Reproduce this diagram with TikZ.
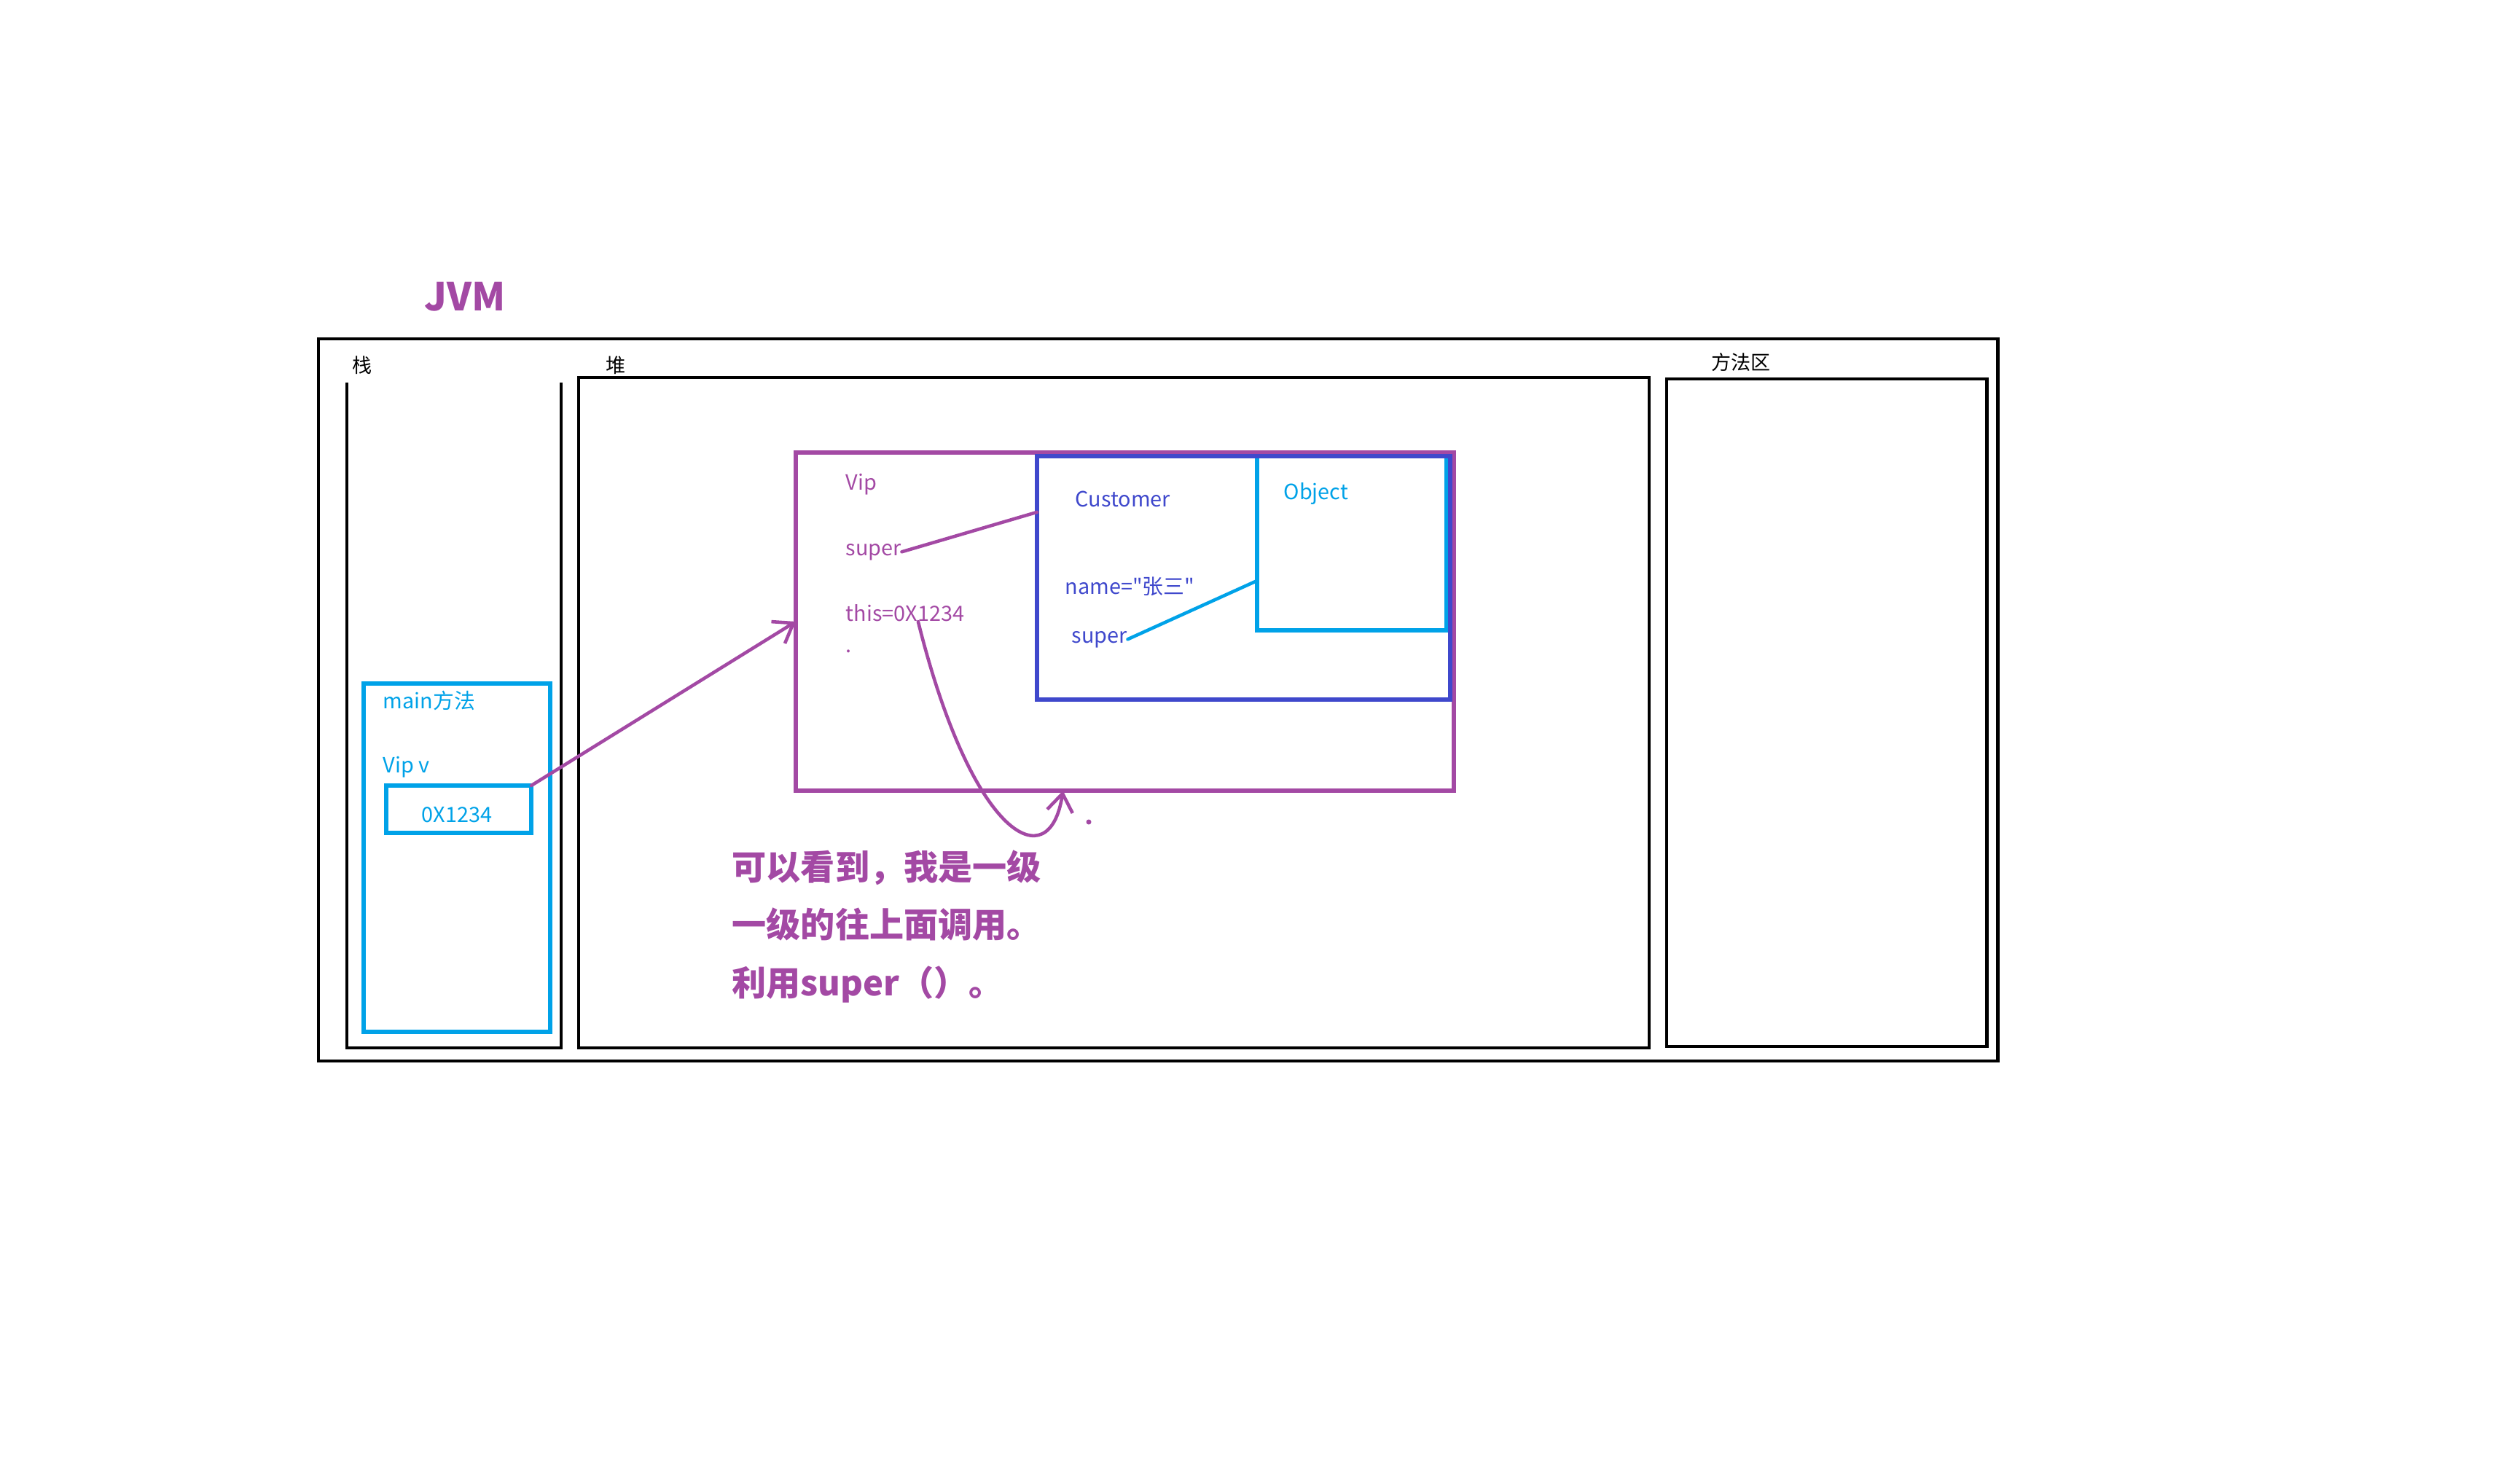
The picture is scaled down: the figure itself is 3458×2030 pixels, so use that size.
\documentclass[tikz,border=0pt]{standalone}
\usepackage{fontspec}
\setmainfont{Noto Sans CJK SC}
\newfontfamily\rawfont{Noto Sans CJK SC}
\usetikzlibrary{arrows.meta, calc, fit}
\definecolor{vpurple}{HTML}{A349A4}
\definecolor{vcyan}{HTML}{00A2E8}
\definecolor{vindigo}{HTML}{3F48CC}

\begin{document}
\begin{tikzpicture}[x=0.01cm, y=-0.01cm,
    area/.style={draw=black, line width=1.4pt, inner sep=0pt, outer sep=0pt},
    membox/.style={draw=#1, line width=1.5pt, inner sep=0pt, outer sep=0pt},
    arealbl/.style={anchor=base west, inner sep=0pt, font=\fontsize{7.7}{9}\selectfont},
    lbl/.style={anchor=base west, inner sep=0pt, text=#1, font=\fontsize{8.2}{10}\selectfont},
    note/.style={anchor=base west, inner sep=0pt, text=vpurple, font=\fontsize{13.4}{16}\selectfont\bfseries},
    link/.style={draw=#1, line width=1.3pt, line cap=round},
    >={Straight Barb[length=7pt, width=10pt]}]
    \useasboundingbox (0,0) rectangle (3458,2030);

    % JVM frame
    \node[anchor=base west, inner sep=0pt, text=vpurple, font=\fontsize{15}{18}\selectfont\bfseries] (jvm) at (582,426) {JVM};
    \node[area, fit={(437,465) (2741,1456)}] (jvmbox) {};

    % Stack
    \draw[line width=1.4pt] (476,525) |- (770,1438) -- (770,525);
    \node[arealbl] (stacklbl) at (483,511) {栈};
    \node[membox=vcyan, fit={(499,938) (755,1416)}] (mainframe) {};
    \node[lbl=vcyan] (mainlbl) at (525,972) {main方法};
    \node[lbl=vcyan] (vipvar) at (525,1060) {Vip v};
    \node[membox=vcyan, fit={(530,1078) (729,1143)}] (addr) {};
    \node[lbl=vcyan, anchor=base] (addrtxt) at (627,1128) {0X1234};

    % Heap
    \node[area, fit={(794,518) (2263,1438)}] (heap) {};
    \node[arealbl] (heaplbl) at (831,511) {堆};
    \node[membox=vpurple, fit={(1092,621) (1995,1085)}] (vip) {};
    \node[membox=vcyan, fit={(1725,626) (1985,865)}] (obj) {};
    \node[membox=vindigo, fit={(1423,626) (1990,960)}] (cust) {};

    \node[lbl=vpurple] (viplbl) at (1160,672) {Vip};
    \node[lbl=vpurple] (vsuper) at (1160,762) {super};
    \node[lbl=vpurple] (vthis) at (1160,852) {this=0X1234};
    \node[lbl=vpurple] (vdot) at (1160,895) {.};
    \node[lbl=vindigo] (custlbl) at (1475,695) {Customer};
    \node[lbl=vindigo] (cname) at (1461,815) {\rawfont name="张三"};
    \node[lbl=vindigo] (csuper) at (1470,882) {super};
    \node[lbl=vcyan] (objlbl) at (1761,685) {Object};

    % Method area
    \node[area, fit={(2287,520) (2726,1436)}] (methods) {};
    \node[arealbl] (methodslbl) at (2348,507) {方法区};

    % Links
    \draw[link=vpurple] (vsuper.east) -- ($(cust.north west)!0.23!(cust.south west)$);
    \draw[link=vcyan] (csuper.east) -- ($(obj.north west)!0.715!(obj.south west)$);
    \draw[link=vpurple, ->] (addr.north east) -- (vip.west);
    \draw[link=vpurple, ->] ($(vthis.south west)!0.61!(vthis.south east)$)
        .. controls +(75,300) and +(-18,120) .. ($(vip.south west)!0.406!(vip.south east)$);
    \fill[vpurple] (1494,1128) circle (1pt);

    % Note
    \node[note] (note1) at (1004,1207) {可以看到，我是一级};
    \node[note] (note2) at (1004,1286) {一级的往上面调用。};
    \node[note] (note3) at (1004,1366) {利用super（）。};
\end{tikzpicture}
\end{document}
